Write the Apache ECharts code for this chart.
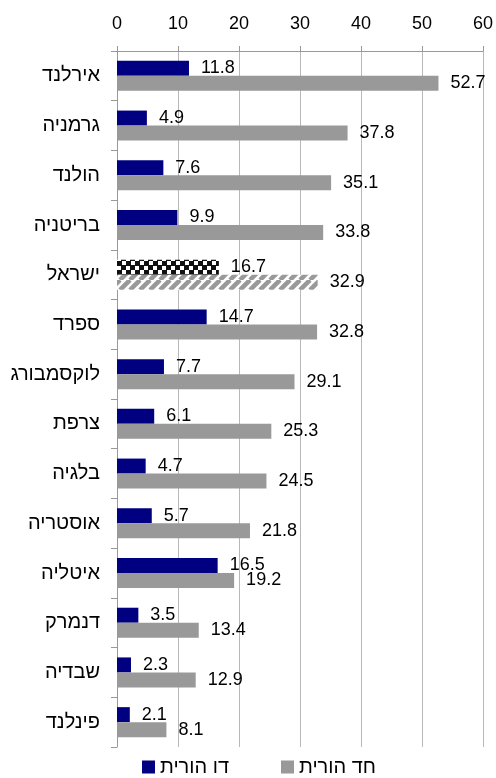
<!DOCTYPE html>
<html>
<head>
<meta charset="utf-8">
<script src="https://cdn.jsdelivr.net/npm/echarts@6/dist/echarts.min.js"></script>
<style>html,body{margin:0;padding:0;background:#fff}#c{width:496px;height:778px}</style>
</head>
<body>
<div id="c"></div>
<script>
const categories = ['אירלנד','גרמניה','הולנד','בריטניה','ישראל','ספרד','לוקסמבורג','צרפת','בלגיה','אוסטריה','איטליה','דנמרק','שבדיה','פינלנד'];
const twoParent = [11.8, 4.9, 7.6, 9.9, 16.7, 14.7, 7.7, 6.1, 4.7, 5.7, 16.5, 3.5, 2.3, 2.1];
const singleParent = [52.7, 37.8, 35.1, 33.8, 32.9, 32.8, 29.1, 25.3, 24.5, 21.8, 19.2, 13.4, 12.9, 8.1];
const xTicks = [0, 10, 20, 30, 40, 50, 60];
const seriesNames = ['דו הורית', 'חד הורית'];
const highlight = 'ישראל';

function checker() {
  const c = document.createElement('canvas'); c.width = 9; c.height = 9;
  const g = c.getContext('2d');
  g.fillStyle = '#fff'; g.fillRect(0,0,9,9);
  g.fillStyle = '#111'; g.fillRect(0,0,5,5); g.fillRect(4,4,5,5);
  return c;
}
function stripes() {
  const c = document.createElement('canvas'); c.width = 10; c.height = 10;
  const g = c.getContext('2d');
  g.fillStyle = '#fff'; g.fillRect(0,0,10,10);
  g.strokeStyle = '#999'; g.lineWidth = 4.5;
  for (let k = -10; k <= 20; k += 10) { g.beginPath(); g.moveTo(k, 10); g.lineTo(k + 10, 0); g.stroke(); }
  return c;
}
const pat1 = {image: checker(), repeat: 'repeat'};
const pat2 = {image: stripes(), repeat: 'repeat'};

const font = 'Liberation Sans, Arial, sans-serif';
const lbl = {show: true, position: 'right', distance: 12, fontSize: 18, color: '#000', fontFamily: font};

function mk(vals, pat) {
  return vals.map((v, i) => categories[i] === highlight
    ? {value: v, itemStyle: {color: pat}}
    : {value: v});
}

const chart = echarts.init(document.getElementById('c'), null, {renderer: 'canvas'});
chart.setOption({
  animation: false,
  grid: {left: 117, right: 11, top: 51, bottom: 31, containLabel: false},
  legend: {
    data: seriesNames, left: 142, bottom: 1, padding: 0, itemWidth: 13, itemHeight: 13, itemGap: 52,
    textStyle: {fontSize: 20, color: '#000', fontFamily: font}, icon: 'rect'
  },
  xAxis: {
    type: 'value', position: 'top', min: 0, max: 60, interval: 10,
    axisLine: {show: true, onZero: false, lineStyle: {color: '#999'}},
    axisTick: {show: true, length: 5, lineStyle: {color: '#999'}},
    axisLabel: {fontSize: 18, color: '#000', fontFamily: font, margin: 18,
      formatter: v => xTicks.includes(v) ? String(v) : ''},
    splitLine: {show: true, lineStyle: {color: '#b8b8b8'}}
  },
  yAxis: {
    type: 'category', data: categories, inverse: true,
    axisLine: {show: true, lineStyle: {color: '#999'}},
    axisTick: {show: true, length: 6, lineStyle: {color: '#999'}},
    axisLabel: {fontSize: 20, color: '#000', fontFamily: font, margin: 17}
  },
  series: [
    {name: seriesNames[0], type: 'bar', data: mk(twoParent, pat1), barWidth: 15, barGap: '0%',
      itemStyle: {color: '#000080'}, label: lbl},
    {name: seriesNames[1], type: 'bar', data: mk(singleParent, pat2), barWidth: 15, barGap: '0%',
      itemStyle: {color: '#999999'}, label: lbl}
  ]
});
</script>
</body>
</html>
